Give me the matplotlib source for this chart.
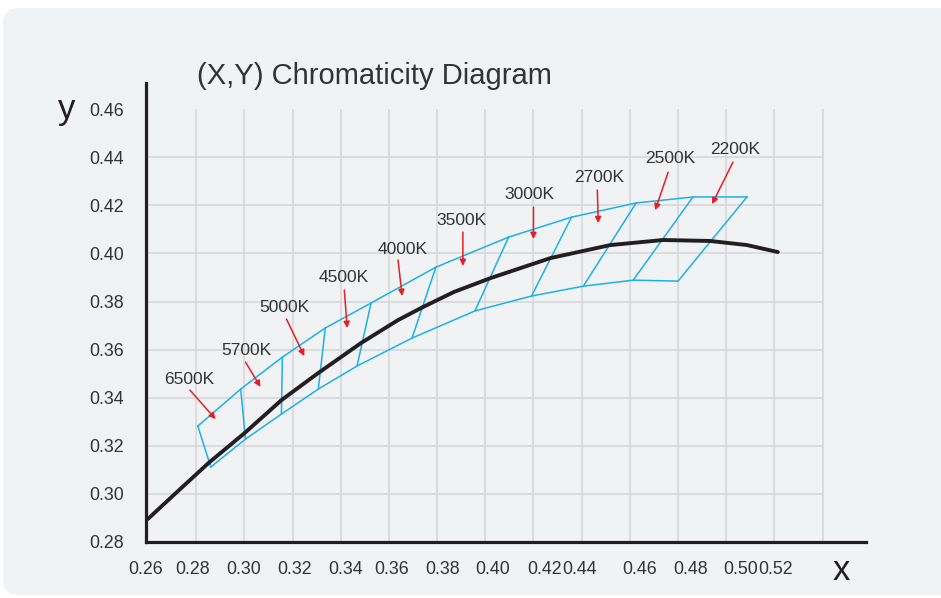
import matplotlib
matplotlib.use('Agg')
from matplotlib import pyplot as plt
from matplotlib.patches import FancyBboxPatch

# black curve (planckian locus)
locus_x = [0.2600, 0.2712, 0.2852, 0.3001, 0.3154, 0.3307, 0.3485, 0.3638,
           0.3741, 0.3870, 0.4023, 0.4271, 0.4519, 0.4738, 0.4933, 0.5086,
           0.5214]
locus_y = [0.2896, 0.3000, 0.3129, 0.3253, 0.3390, 0.3503, 0.3628, 0.3723,
           0.3777, 0.3840, 0.3898, 0.3981, 0.4035, 0.4056, 0.4052, 0.4035,
           0.4006]

# corners of the blue bins, upper and lower edge
upper_x = [0.2807, 0.2985, 0.3158, 0.3336, 0.3526, 0.3795, 0.4097, 0.4358,
           0.4626, 0.4862, 0.5086]
upper_y = [0.3282, 0.3436, 0.3569, 0.3690, 0.3794, 0.3943, 0.4068, 0.4151,
           0.4210, 0.4235, 0.4235]
lower_x = [0.2861, 0.3005, 0.3154, 0.3307, 0.3468, 0.3696, 0.3957, 0.4192,
           0.4407, 0.4614, 0.4800]
lower_y = [0.3112, 0.3228, 0.3332, 0.3436, 0.3532, 0.3648, 0.3761, 0.3823,
           0.3864, 0.3889, 0.3885]

# cct labels: text centre, arrow start, arrow tip
cct_labels = ['6500K', '5700K', '5000K', '4500K', '4000K', '3500K',
              '3000K', '2700K', '2500K', '2200K']
label_x = [0.2770, 0.3009, 0.3167, 0.3411, 0.3655, 0.3903, 0.4184, 0.4473,
           0.4767, 0.5036]
label_y = [0.3474, 0.3598, 0.3777, 0.3898, 0.4018, 0.4139, 0.4247, 0.4318,
           0.4397, 0.4434]
arrow_x0 = [0.2774, 0.3005, 0.3175, 0.3415, 0.3638, 0.3907, 0.4200, 0.4465,
            0.4759, 0.5028]
arrow_y0 = [0.3432, 0.3548, 0.3727, 0.3848, 0.3973, 0.4089, 0.4193, 0.4264,
            0.4338, 0.4380]
arrow_x1 = [0.2881, 0.3067, 0.3249, 0.3427, 0.3655, 0.3907, 0.4200, 0.4469,
            0.4705, 0.4941]
arrow_y1 = [0.3311, 0.3445, 0.3573, 0.3690, 0.3823, 0.3948, 0.4060, 0.4126,
            0.4180, 0.4205]

# tick labels sit a bit off the grid in the original
x_tick_pos = [0.2592, 0.2786, 0.2997, 0.3208, 0.3419, 0.3613, 0.3824, 0.4031,
              0.4246, 0.4391, 0.4639, 0.4850, 0.5061, 0.5205]
x_tick_labels = ['0.26', '0.28', '0.30', '0.32', '0.34', '0.36', '0.38',
                 '0.40', '0.42', '0.44', '0.46', '0.48', '0.50', '0.52']
y_ticks = [0.28, 0.30, 0.32, 0.34, 0.36, 0.38, 0.40, 0.42, 0.44, 0.46]
grid_x = [0.28, 0.30, 0.32, 0.34, 0.36, 0.38, 0.40, 0.42, 0.44, 0.46, 0.48,
          0.50, 0.52, 0.54]
grid_y = [0.30, 0.32, 0.34, 0.36, 0.38, 0.40, 0.42, 0.44]

DARK = '#231f20'
BLUE = '#1cb1e7'
RED = '#e61f27'
GRID = '#d5d6d9'


def draw_background(fig):
    bg = fig.add_axes([0, 0, 1, 1], zorder=-10)
    bg.set_xlim(0, 941)
    bg.set_ylim(598, 0)
    bg.axis('off')
    box = FancyBboxPatch((3, 8), 960, 587,
                         boxstyle='round,pad=0,rounding_size=16',
                         facecolor='#f1f2f4', edgecolor='none')
    bg.add_patch(box)


def draw_bins(ax):
    ax.plot(upper_x, upper_y, color=BLUE, lw=1.1, zorder=3)
    ax.plot(lower_x, lower_y, color=BLUE, lw=1.1, zorder=3)
    for i in range(len(upper_x)):
        ax.plot([upper_x[i], lower_x[i]], [upper_y[i], lower_y[i]],
                color=BLUE, lw=1.1, zorder=3)


def draw_labels(ax):
    for i, txt in enumerate(cct_labels):
        ax.text(label_x[i], label_y[i], txt, ha='center', va='center',
                fontsize=12.5, color='#333333', zorder=5)
        ax.annotate('', xy=(arrow_x1[i], arrow_y1[i]),
                    xytext=(arrow_x0[i], arrow_y0[i]),
                    arrowprops=dict(arrowstyle='-|>', color=RED, lw=1.1,
                                    mutation_scale=9, shrinkA=0, shrinkB=0),
                    zorder=6)


def main():
    plt.rcParams['font.family'] = ['Liberation Sans', 'DejaVu Sans']
    fig = plt.figure(figsize=(9.41, 5.98), dpi=100, facecolor='white')
    draw_background(fig)

    ax = fig.add_axes([146 / 941, 1 - 542 / 598, 720 / 941, 459 / 598])
    ax.set_facecolor('none')
    ax.set_xlim(0.26, 0.558)
    ax.set_ylim(0.28, 0.4709)

    ax.vlines(grid_x, 0.28, 0.46, color=GRID, lw=1.1, zorder=1)
    ax.hlines(grid_y, 0.26, 0.54, color=GRID, lw=1.1, zorder=1)

    draw_bins(ax)
    ax.plot(locus_x, locus_y, color=DARK, lw=2.8, zorder=4,
            solid_capstyle='round', solid_joinstyle='round')
    draw_labels(ax)

    for side in ['top', 'right']:
        ax.spines[side].set_visible(False)
    for side in ['left', 'bottom']:
        ax.spines[side].set_linewidth(2.3)
        ax.spines[side].set_color(DARK)
        ax.spines[side].set_capstyle('projecting')

    ax.set_xticks(x_tick_pos)
    ax.set_xticklabels(x_tick_labels)
    ax.set_yticks(y_ticks)
    ax.set_yticklabels(['%.2f' % v for v in y_ticks])
    ax.tick_params(axis='x', length=0, pad=14, labelsize=12.8,
                   labelcolor='#333333')
    ax.tick_params(axis='y', length=0, pad=16, labelsize=12.8,
                   labelcolor='#333333')

    fig.text(197 / 941, 1 - 76 / 598, '(X,Y) Chromaticity Diagram',
             ha='left', va='center', fontsize=21, color='#333333')
    fig.text(67 / 941, 1 - 110 / 598, 'y', ha='center', va='center',
             fontsize=25, color=DARK)
    fig.text(841 / 941, 1 - 570 / 598, 'x', ha='center', va='center',
             fontsize=25, color=DARK)

    fig.savefig('out.png', dpi=100, facecolor='white')
    plt.close(fig)


if __name__ == '__main__':
    main()
